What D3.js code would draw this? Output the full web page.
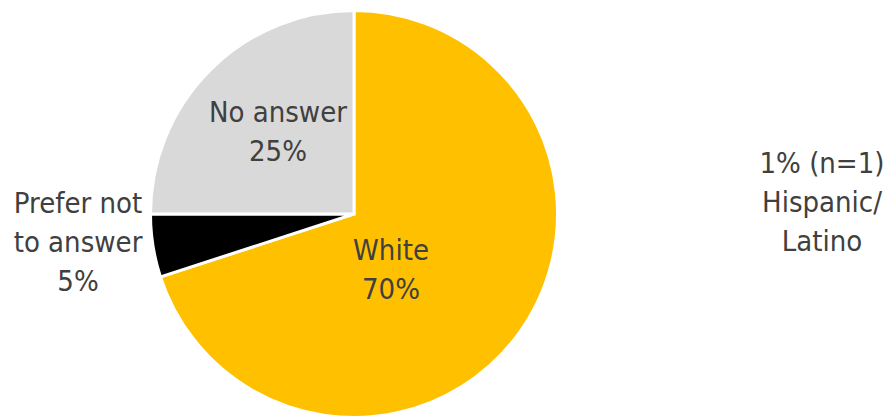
<!DOCTYPE html>
<html>
<head>
<meta charset="utf-8">
<script src="https://cdn.jsdelivr.net/npm/d3@7"></script>
<style>
  html, body { margin: 0; padding: 0; background: #fff; }
  svg text { font-family: "DejaVu Sans Condensed", "DejaVu Sans", sans-serif; fill: #404040; }
</style>
</head>
<body>
<svg id="chart" width="889" height="417"></svg>
<script>
// Ethnicity breakdown (percent of respondents)
const categories = ["White", "Prefer not to answer", "No answer"];
const values = [70, 5, 25];
const colors = ["#FFC000", "#000000", "#D9D9D9"];
const labelLines = [["White", "70%"], ["Prefer not", "to answer", "5%"], ["No answer", "25%"]];
const sideNote = ["1% (n=1)", "Hispanic/", "Latino"];

const svg = d3.select("#chart");
const cx = 354, cy = 214, r = 203.5;

const pie = d3.pie().sort(null).value(d => d)(values);
const arc = d3.arc().innerRadius(0).outerRadius(r);

const g = svg.append("g").attr("transform", `translate(${cx},${cy})`);
g.selectAll("path")
  .data(pie)
  .join("path")
  .attr("d", arc)
  .attr("fill", (d, i) => colors[i])
  .attr("stroke", "#fff")
  .attr("stroke-width", 3)
  .attr("stroke-linejoin", "miter");

// Label anchor points (first baseline, centre x) relative to the pie centre
const labelPos = [[37, 46], [-276, -1], [-76, -92]];
const lineH = 39;
labelLines.forEach((lines, i) => {
  const t = g.append("text")
    .attr("text-anchor", "middle")
    .attr("font-size", 29);
  lines.forEach((s, j) => {
    t.append("tspan")
      .attr("x", labelPos[i][0])
      .attr("y", labelPos[i][1] + j * lineH)
      .text(s);
  });
});

const note = svg.append("text")
  .attr("text-anchor", "middle")
  .attr("font-size", 29);
sideNote.forEach((s, j) => {
  note.append("tspan").attr("x", 822).attr("y", 173 + j * lineH).text(s);
});
</script>
</body>
</html>
